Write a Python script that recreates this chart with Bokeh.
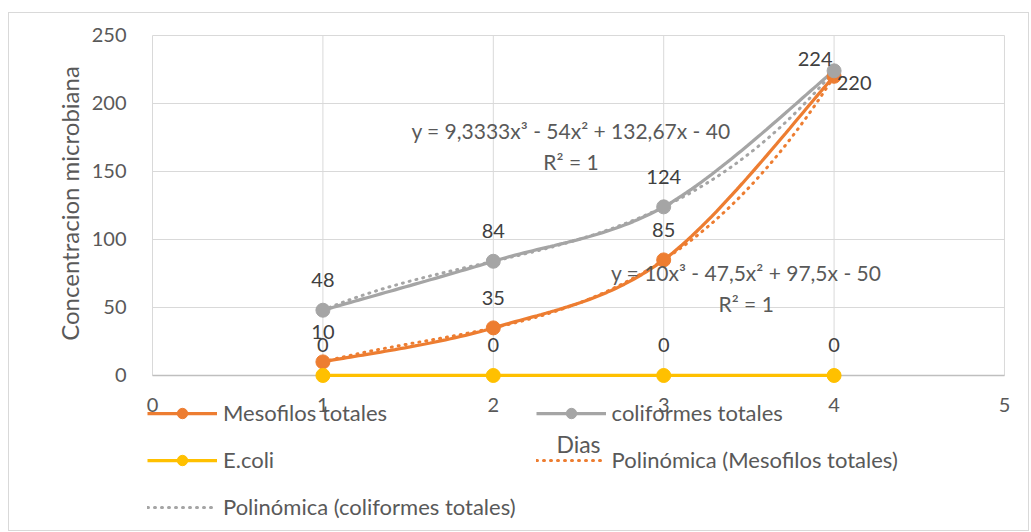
import numpy as np
from bokeh.plotting import figure
from bokeh.models import (Range1d, FixedTicker, Legend, LegendItem, Label)
from bokeh.core.properties import value
from bokeh.embed import file_html
from bokeh.resources import INLINE

# ---------------- data ----------------
dias = [1, 2, 3, 4]
mesofilos = [10, 35, 85, 220]
coliformes = [48, 84, 124, 224]
ecoli = [0, 0, 0, 0]
x_ticks = [0, 1, 2, 3, 4, 5]
y_ticks = [0, 50, 100, 150, 200, 250]
series_names = ["Mesofilos totales", "coliformes totales", "E.coli"]

FONT = "Lato"
ORANGE = "#ED7D31"
GRAY = "#A5A5A5"
YELLOW = "#FFC000"
GRID = "#D9D9D9"
TXT = "#595959"
LBL = "#404040"

# view padding (data units): room for edge lines, markers, and the legend area below the axis
XPAD = 0.0588
YPAD_TOP = 7.35
YPAD_BOTTOM = 110.3
EM = "\u2003"  # em spaces shift the rotated y title up to the middle of the 0-250 span


def smooth(xs, ys, n=40):
    """Excel-like smoothed line: cubic Bezier through the points."""
    P = np.column_stack([xs, ys]).astype(float)
    m = len(P)
    out = []
    t = np.linspace(0, 1, n)[:, None]
    for i in range(m - 1):
        p0 = P[i - 1] if i > 0 else P[i]
        p1, p2 = P[i], P[i + 1]
        p3 = P[i + 2] if i + 2 < m else P[i + 1]
        c1 = p1 + (p2 - p0) / 6.0
        c2 = p2 - (p3 - p1) / 6.0
        seg = ((1 - t) ** 3) * p1 + 3 * ((1 - t) ** 2) * t * c1 + 3 * (1 - t) * (t ** 2) * c2 + (t ** 3) * p2
        out.append(seg if i == 0 else seg[1:])
    a = np.vstack(out)
    return a[:, 0], a[:, 1]


def fmt(v):
    return f"{abs(v):.5g}".replace(".", ",")


def equation(c):
    s = "y = " + ("-" if c[0] < 0 else "") + fmt(c[0]) + "x³"
    for coef, term in zip(c[1:], ["x²", "x", ""]):
        s += (" - " if coef < 0 else " + ") + fmt(coef) + term
    return s


def r2(xs, ys, c):
    ys = np.asarray(ys, float)
    pred = np.polyval(c, xs)
    ss_res = np.sum((ys - pred) ** 2)
    ss_tot = np.sum((ys - ys.mean()) ** 2)
    return 1 - ss_res / ss_tot


p = figure(width=1021, height=519, output_backend="svg", toolbar_location=None,
           x_range=Range1d(min(x_ticks) - XPAD, max(x_ticks) + XPAD),
           y_range=Range1d(min(y_ticks) - YPAD_BOTTOM, max(y_ticks) + YPAD_TOP),
           min_border_left=133, min_border_right=16, min_border_top=12,
           min_border_bottom=7, background_fill_color="white",
           border_fill_color="white", margin=(12, 0, 0, 8),
           styles={"border": "1px solid #D9D9D9"})
p.outline_line_color = None
p.xgrid.visible = False
p.ygrid.visible = False

# gridlines drawn from the tick lists
p.segment(x0=x_ticks, y0=[min(y_ticks)] * len(x_ticks), x1=x_ticks,
          y1=[max(y_ticks)] * len(x_ticks), line_color=GRID, line_width=1, level="underlay")
p.segment(x0=[min(x_ticks)] * len(y_ticks), y0=y_ticks, x1=[max(x_ticks)] * len(y_ticks),
          y1=y_ticks, line_color=GRID, line_width=1, level="underlay")

# axes
p.xaxis.ticker = FixedTicker(ticks=x_ticks)
p.yaxis.ticker = FixedTicker(ticks=y_ticks)
for ax in (p.xaxis, p.yaxis):
    ax.major_tick_line_color = None
    ax.minor_tick_line_color = None
    ax.major_label_text_font = FONT
    ax.major_label_text_font_size = "20px"
    ax.major_label_text_color = TXT
    ax.axis_label_text_font = FONT
    ax.axis_label_text_font_style = "normal"
    ax.axis_label_text_color = TXT
p.xaxis.axis_label_text_font_size = "23px"
p.yaxis.axis_label_text_font_size = "24px"
p.xaxis.fixed_location = 0
p.xaxis.bounds = (min(x_ticks), max(x_ticks))
p.yaxis.bounds = (min(y_ticks), max(y_ticks))
p.xaxis.axis_line_color = "#BFBFBF"
p.xaxis.axis_line_width = 1.5
p.yaxis.axis_line_color = None
p.xaxis.major_label_standoff = 17
p.yaxis.major_label_standoff = 10
p.xaxis.axis_label = "Dias"
p.yaxis.axis_label = EM * 8 + "Concentracion microbiana"
p.xaxis.axis_label_standoff = 14
p.yaxis.axis_label_standoff = 5

# series
renderers = {}
colors = [ORANGE, GRAY, YELLOW]
values = [mesofilos, coliformes, ecoli]
for name, ys, col in zip(series_names, values, colors):
    sx, sy = smooth(dias, ys)
    lvl = "annotation" if name == "E.coli" else "glyph"
    ln = p.line(sx, sy, line_color=col, line_width=3.25, level=lvl)
    renderers[name] = [ln]

# trendlines (cubic polynomial fits)
fits = {}
for name, ys, col in zip(series_names[:2], values[:2], colors[:2]):
    c = np.polyfit(dias, ys, 3)
    fits[name] = c
    tx = np.linspace(min(dias), max(dias), 200)
    tl = p.line(tx, np.polyval(c, tx), line_color=col, line_width=3,
                line_dash="1 6", line_cap="round")
    renderers["Polinómica (" + name + ")"] = [tl]

for name, ys, col in zip(series_names, values, colors):
    lvl = "annotation" if name == "E.coli" else "glyph"
    sc = p.scatter(dias, ys, size=14, fill_color=col, line_color=col, level=lvl)
    renderers[name].append(sc)

# data labels
lab_kw = dict(text_font=value(FONT), text_font_size="20px", text_color=LBL,
              text_align="center", text_baseline="middle")
p.text(dias, mesofilos, text=[str(v) for v in mesofilos],
       x_offset=[0, 0, 0, 20], y_offset=[-30, -30, -30, 7], **lab_kw)
p.text(dias, coliformes, text=[str(v) for v in coliformes],
       x_offset=[0, 0, 0, -19], y_offset=[-30, -30, -30, -12], **lab_kw)
p.text(dias, ecoli, text=[str(v) for v in ecoli], y_offset=-30, **lab_kw)

# trendline equations
EQ_POS = {"coliformes totales": (2.456, 180.0), "Mesofilos totales": (3.484, 75.5)}
for name, ys in zip(series_names[:2], values[:2]):
    c = fits[name]
    ex, ey = EQ_POS[name]
    r2txt = "R² = " + f"{r2(dias, ys, c):.5g}".replace(".", ",")
    for txt, off in [(equation(c), 0), (r2txt, 31)]:
        p.add_layout(Label(x=ex, y=ey, y_offset=-off, text=txt, text_font=FONT,
                           text_font_size="21px", text_color=TXT,
                           text_align="center", text_baseline="middle"))

# legend (overlapping the axis area as in the original)
order = ["Mesofilos totales", "coliformes totales", "E.coli",
         "Polinómica (Mesofilos totales)", "Polinómica (coliformes totales)"]
items = [LegendItem(label=n, renderers=renderers[n]) for n in order]
legend = Legend(items=items, location=(5, 5), orientation="horizontal", ncols=2,
                glyph_width=70, glyph_height=26, label_height=26, spacing=20,
                padding=0, margin=0, border_line_color=None, background_fill_alpha=0,
                label_text_font=FONT, label_text_font_size="22px",
                label_text_color=TXT, label_standoff=6)
p.add_layout(legend)

open("out.html", "w").write(file_html(p, INLINE))
